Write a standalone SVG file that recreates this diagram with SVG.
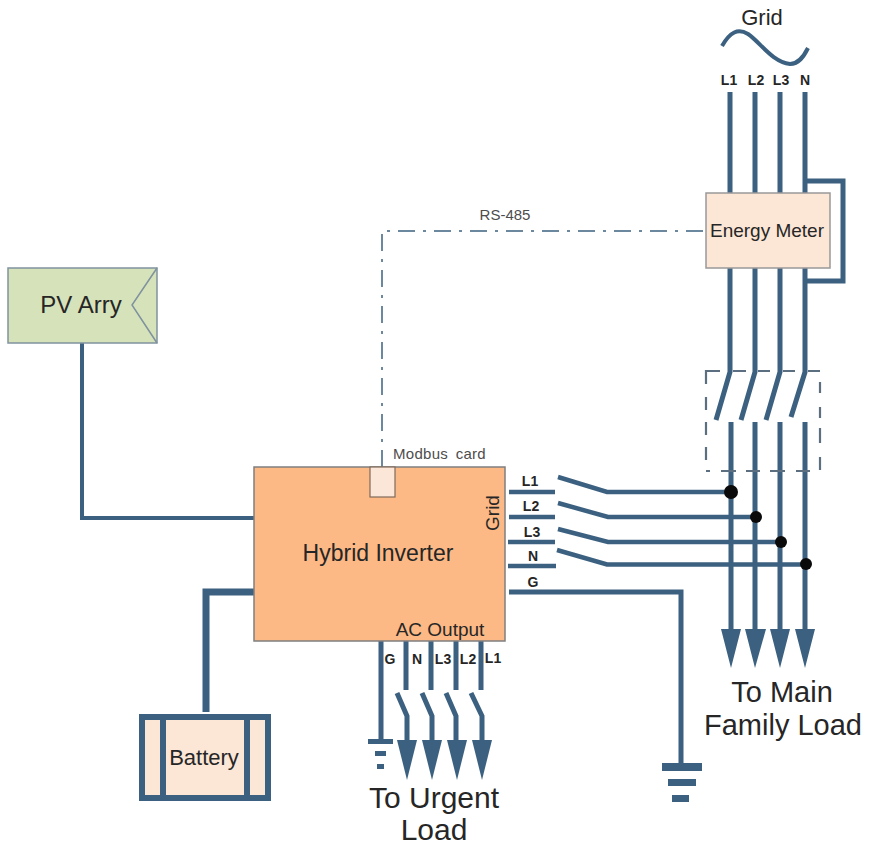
<svg xmlns="http://www.w3.org/2000/svg" width="872" height="845" viewBox="0 0 872 845">
<style>
text{font-family:"Liberation Sans",Arial,sans-serif;fill:#262626}
.w{fill:none;stroke:#3c6180;stroke-width:5}
.m{fill:none;stroke:#3c6180;stroke-width:4}
.h{fill:#3c6180}
.d{fill:#0a0a0a}
.b{font-weight:bold;font-size:14px;text-anchor:middle}
.c{text-anchor:middle}
.g{fill:#4d4d4d}
</style>
<rect width="872" height="845" fill="#fff"/>
<g id="connectors">
<path class="m" d="M82 343V518H256"/>
<path class="w" d="M206 712V592H256" style="stroke-width:7"/>
<path d="M382 467V231H706" fill="none" stroke="#3c6180" stroke-width="1.500" stroke-dasharray="17 8 3 8"/>
<path class="w" d="M730 92V193M755 92V193M780 92V193M805 92V193"/>
<path class="w" d="M805 181H843V281H805"/>
<path class="w" d="M730 268V372L716 420M755 268V372L741 420M780 268V372L766 420M805 268V372L791 417"/>
<path class="w" d="M731 422V632M755 422V632M780 422V632M805 422V632"/>
<path class="h" d="M721 629H741L731 668ZM745 629H766L755 668ZM770 629H790L780 668ZM795 629H815L805 668Z"/>
<path d="M720 371H706V384M706 397V410M706 422V435M706 447V460M733 371H746M758 371H770M783 371H795M808 371H820M820 382V393M820 407V418M820 428V443M820 457V470M706 471H710M721 471H736M746 471H760M770 471H785M796 471H810" fill="none" stroke="#5c6f80" stroke-width="2.200"/>
<path class="w" d="M509 492H555M509 517H555M508 542H555M508 566H556" style="stroke-width:4.500"/>
<path class="w" d="M558 477L607 492H731M558 503L608 517H756M558 529L608 542H781M557 550L607 564.500H806" style="stroke-width:4.500"/>
<circle class="d" cx="731" cy="492" r="7"/>
<circle class="d" cx="756" cy="517" r="6"/>
<circle class="d" cx="781" cy="542" r="6"/>
<circle class="d" cx="806" cy="564" r="6"/>
<path class="w" d="M509 592H681V766"/>
<path class="h" d="M662 763h40v8h-40zM668 779h28v7h-28zM672 795h17v7h-17z"/>
<path class="w" d="M381 641V740M406 641V690M431 641V690M456 641V690M481 641V690"/>
<path class="w" d="M397 693L407 716V742M422 693L432 716V742M446 693L456 716V742M471 693L482 716V742"/>
<path class="h" d="M397 740H417L407 780ZM422 740H442L432 780ZM447 740H467L457 780ZM472 740H492L482 780Z"/>
<path class="h" d="M368 739h25v5h-25zM375 751h11v5h-11zM377 764h7v5h-7z"/>
</g>
<g id="grid-source">
<text x="762" y="25" class="c" font-size="22">Grid</text>
<path d="M722 46C730 32 738 28 748 34C760 42 772 62 790 64C799 64 804 56 808 48" fill="none" stroke="#3c6180" stroke-width="4"/>
<text x="729" y="85" class="b">L1</text><text x="756" y="85" class="b">L2</text><text x="781" y="85" class="b">L3</text><text x="805" y="85" class="b">N</text>
</g>
<g id="rs485-label"><text x="505" y="220" class="c g" font-size="15">RS-485</text></g>
<g id="energy-meter">
<rect x="706" y="193" width="124" height="75" fill="#fce6d6" stroke="#999" stroke-width="1.500"/>
<text x="767" y="237" class="c" font-size="19">Energy Meter</text>
</g>
<g id="pv-array">
<rect x="8" y="268" width="149" height="75" fill="#d6e2ba" stroke="#7f929e" stroke-width="1.500"/>
<path d="M157 268L132 305L157 343" fill="none" stroke="#7f929e" stroke-width="1.500"/>
<text x="81" y="313" class="c" font-size="24">PV Arry</text>
</g>
<g id="hybrid-inverter">
<rect x="254" y="467" width="251" height="174" fill="#fcb985" stroke="#7f7f7f" stroke-width="1.500"/>
<rect x="370" y="467" width="25" height="30" fill="#fbe6d8" stroke="#7f6a5a" stroke-width="1.200"/>
<text x="378" y="561" class="c" font-size="23">Hybrid Inverter</text>
<text x="393" y="459" font-size="15" class="g" word-spacing="3" letter-spacing="0.300">Modbus card</text>
<text x="440" y="636" class="c" font-size="19">AC Output</text>
<text transform="translate(499 513) rotate(-90)" class="c" font-size="19">Grid</text>
</g>
<g id="inverter-grid-labels">
<text x="530" y="486" class="b">L1</text><text x="531" y="511" class="b">L2</text><text x="532" y="537" class="b">L3</text><text x="533" y="561" class="b">N</text><text x="533" y="587" class="b">G</text>
</g>
<g id="inverter-output-labels">
<text x="390" y="664" class="b">G</text><text x="417" y="664" class="b">N</text><text x="443" y="664" class="b">L3</text><text x="468" y="664" class="b">L2</text><text x="493" y="663" class="b">L1</text>
</g>
<g id="battery">
<rect x="142" y="716" width="126" height="82" fill="#fce6d6"/>
<path d="M142 717H268V798H142ZM163 717V798M247 717V798" fill="none" stroke="#3c6180" stroke-width="6"/>
<text x="204" y="765" class="c" font-size="22">Battery</text>
</g>
<g id="main-load-label">
<text x="782" y="702" class="c" font-size="29">To Main</text>
<text x="783" y="735" class="c" font-size="29">Family Load</text>
</g>
<g id="urgent-load-label">
<text x="434" y="808" class="c" font-size="30">To Urgent</text>
<text x="434" y="840" class="c" font-size="30">Load</text>
</g>
</svg>
